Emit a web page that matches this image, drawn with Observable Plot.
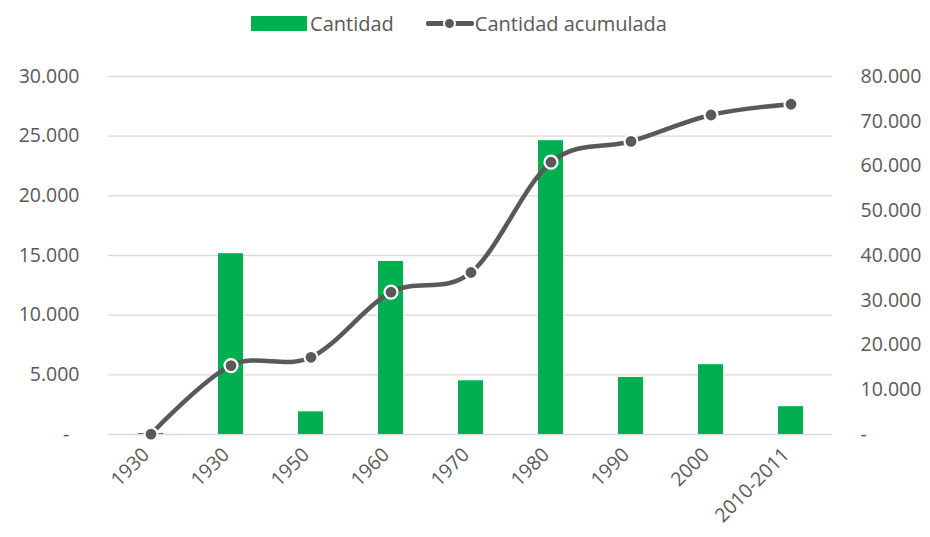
<!DOCTYPE html>
<html>
<head>
<meta charset="utf-8">
<script src="https://cdn.jsdelivr.net/npm/d3@7"></script>
<script src="https://cdn.jsdelivr.net/npm/@observablehq/plot@0.6"></script>
<style>
  html, body { margin: 0; padding: 0; background: #fff; }
  body { width: 930px; height: 537px; overflow: hidden; font-family: "Open Sans", sans-serif; color: #595959; }
  #legend { height: 46px; display: flex; align-items: center; justify-content: center; font-size: 20px; box-sizing: border-box; padding-right: 12px; }
  .item { display: flex; align-items: center; }
  .sw { width: 56px; height: 15px; background: #00B050; margin-right: 3px; }
  .ln { position: relative; width: 48px; height: 14px; margin-right: 1px; }
  .ln::before { content: ""; position: absolute; left: 0; right: 0; top: 5px; height: 5px; background: #595959; border-radius: 2px; }
  .ln::after { content: ""; position: absolute; left: 17px; top: 1px; width: 9px; height: 9px; border-radius: 50%; background: #595959; border: 2px solid #fff; }
  #chart svg { display: block; }
</style>
</head>
<body>
<div id="legend">
  <div class="item"><span class="sw"></span><span>Cantidad</span></div>
  <div class="item" style="margin-left:32px"><span class="ln"></span><span>Cantidad acumulada</span></div>
</div>
<div id="chart"></div>
<script>
const categories = ["1930", "1930", "1950", "1960", "1970", "1980", "1990", "2000", "2010-2011"];
const cantidad = [90, 15150, 1900, 14500, 4500, 24620, 4780, 5850, 2330];
const acumulada = [90, 15400, 17250, 31800, 36200, 60850, 65500, 71400, 73800];
const leftTicks = [0, 5000, 10000, 15000, 20000, 25000, 30000];
const rightTicks = [0, 10000, 20000, 30000, 40000, 50000, 60000, 70000, 80000];

const leftMax = 30000, rightMax = 80000;
const k = leftMax / rightMax;
const loc = d3.formatLocale({decimal: ",", thousands: ".", grouping: [3], currency: ["", ""]});
const fmt = loc.format(",d");
const lab = v => v === 0 ? "-\u00a0\u00a0" : fmt(v);

const data = categories.map((c, i) => ({i, cat: c, cantidad: cantidad[i], acum: acumulada[i] * k}));

const chart = Plot.plot({
  width: 930,
  height: 491,
  marginLeft: 108,
  marginRight: 98,
  marginTop: 30,
  marginBottom: 103,
  style: {fontFamily: "'Open Sans', sans-serif", fontSize: "19.5px", color: "#595959", background: "#fff"},
  x: {type: "band", domain: d3.range(categories.length), paddingInner: 0.69, paddingOuter: 0.345},
  y: {domain: [0, leftMax]},
  marks: [
    Plot.gridY(leftTicks, {stroke: "#d9d9d9", strokeOpacity: 1, strokeWidth: 1.3}),
    Plot.axisY(leftTicks, {anchor: "left", tickSize: 0, tickPadding: 29, tickFormat: lab, label: null, fill: "#595959"}),
    Plot.axisY(rightTicks.map(v => v * k), {anchor: "right", tickSize: 0, tickPadding: 28, tickFormat: v => lab(Math.round(v / k)).trim(), label: null, fill: "#595959", textAnchor: "start"}),
    Plot.axisX({tickSize: 0, tickPadding: 17, tickRotate: -45, tickFormat: i => categories[i], label: null, fill: "#595959", dx: -5}),
    Plot.barY(data, {x: "i", y: "cantidad", fill: "#00B050"}),
    Plot.line(data, {x: "i", y: "acum", stroke: "#595959", strokeWidth: 4.5, curve: "cardinal"}),
    Plot.dot(data, {x: "i", y: "acum", r: 6.5, fill: "#595959", stroke: "#fff", strokeWidth: 2.2})
  ]
});
document.getElementById("chart").appendChild(chart);
</script>
</body>
</html>
